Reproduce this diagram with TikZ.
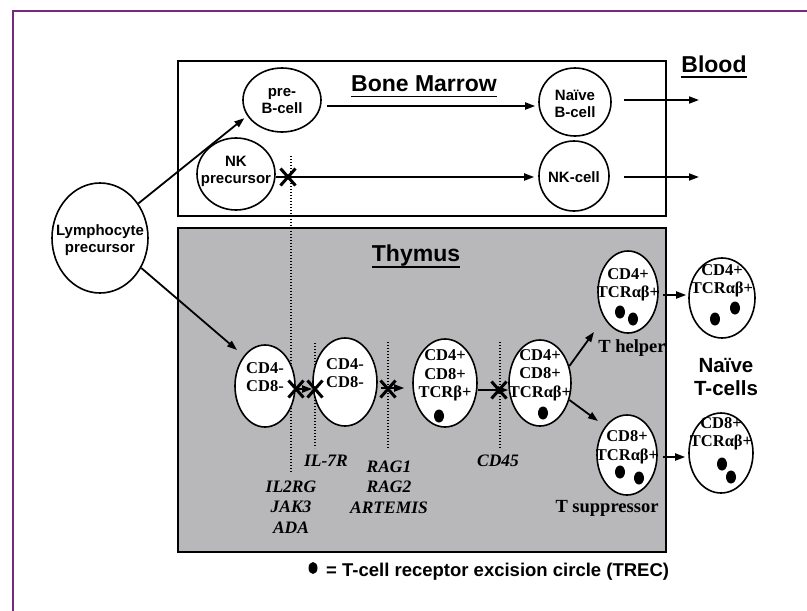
\documentclass[tikz,border=0pt]{standalone}
\usepackage{fontspec}
\setmainfont{Liberation Serif}
\newfontfamily\arialf{Liberation Sans}
\usetikzlibrary{shapes.geometric,shapes.misc,arrows.meta,calc}
\definecolor{framepurple}{RGB}{120,40,130}
\definecolor{thymusgray}{RGB}{184,184,186}
\begin{document}
\begin{tikzpicture}[x=1pt,y=-1pt,
  cell/.style={ellipse,draw,line width=1.6pt,inner sep=0pt,fill=white},
  bmtext/.style={font=\arialf\bfseries\fontsize{15}{17}\selectfont,align=center,inner sep=0pt},
  thtext/.style={font=\bfseries\fontsize{16.5}{18.5}\selectfont,align=center,inner sep=0pt},
  gene/.style={font=\bfseries\itshape\fontsize{17.5}{20.5}\selectfont,align=center,inner sep=0pt},
  title/.style={font=\arialf\bfseries\fontsize{23}{26}\selectfont,inner sep=0pt,anchor=base},
  arr/.style={line width=1.8pt,-{Triangle[length=10pt,width=7pt]}},
  guide/.style={line width=1.3pt,dash pattern=on 1.3pt off 1.7pt},
  xmark/.style={cross out,draw,line width=3pt,minimum width=12pt,minimum height=14pt,inner sep=0pt},
  trec/.style={ellipse,fill=black,inner sep=0pt,minimum width=10pt,minimum height=13pt},
]
\useasboundingbox (0,0) rectangle (807,611);
\draw[framepurple,line width=1.2pt] (13,611) -- (13,11) -- (807,11);

% boxes
\draw[line width=1.3pt] (178,61) rectangle (666,216);
\draw[line width=1.6pt,fill=thymusgray] (178,228) rectangle (666,552);

% titles
\node[title] (bmt) at (424,91.5) {Bone Marrow};
\draw[line width=1.6pt] ($(bmt.base west)+(0,5)$) -- ($(bmt.base east)+(0,5)$);
\node[title] (blt) at (714,72) {Blood};
\draw[line width=1.6pt] ($(blt.base west)+(0,5)$) -- ($(blt.base east)+(0,5)$);
\node[title] (tht) at (416,261) {Thymus};
\draw[line width=1.6pt] ($(tht.base west)+(0,6)$) -- ($(tht.base east)+(0,6)$);

% guide lines (dotted)
\coordinate (g1a) at (291,156); \coordinate (g1b) at (291,473);
\coordinate (g2a) at (315,343); \coordinate (g2b) at (315,448);
\coordinate (g3a) at (388,342); \coordinate (g3b) at (388,448);
\coordinate (g4a) at (500,342); \coordinate (g4b) at (500,448);
\draw[guide] (g1a) -- (g1b);
\draw[guide] (g2a) -- (g2b);
\draw[guide] (g3a) -- (g3b);
\draw[guide] (g4a) -- (g4b);

% bone marrow cells
\node[cell,minimum width=96pt,minimum height=110pt] (lymph) at (100,238) {};
\node[bmtext] (lymphT) at (100,240) {Lymphocyte\\precursor};
\node[cell,minimum width=78pt,minimum height=64pt] (preb) at (282,100) {};
\node[bmtext] (prebT) at (282,101.5) {pre-\\B-cell};
\node[cell,minimum width=78pt,minimum height=72pt] (nkp) at (236,174) {};
\node[bmtext] (nkpT) at (236,171.5) {NK\\precursor};
\node[cell,minimum width=72pt,minimum height=68pt] (naiveb) at (575,102) {};
\node[bmtext] (naivebT) at (575,103.5) {Naïve\\B-cell};
\node[cell,minimum width=70pt,minimum height=70pt] (nkc) at (574,176) {};
\node[bmtext] (nkcT) at (574,177) {NK-cell};

% thymus cells
\node[cell,minimum width=60pt,minimum height=82pt] (t1) at (265,386) {};
\node[thtext] (t1T) at (265,377) {CD4-\\CD8-};
\node[cell,minimum width=64pt,minimum height=88pt] (t2) at (345,382) {};
\node[thtext] (t2T) at (345,373) {CD4-\\CD8-};
\node[cell,minimum width=64pt,minimum height=88pt] (t3) at (445,383) {};
\node[thtext] (t3T) at (445,375.5) {CD4+\\CD8+\\TCRβ+};
\node[trec] (d3) at (439,416) {};
\node[cell,minimum width=62pt,minimum height=86pt] (t4) at (540,383) {};
\node[thtext] (t4T) at (540,375) {CD4+\\CD8+\\TCRαβ+};
\node[trec] (d4) at (543,413) {};
\node[cell,minimum width=60pt,minimum height=82pt] (th) at (628,292) {};
\node[thtext] (thT) at (628,285) {CD4+\\TCRαβ+};
\node[trec] (dh1) at (620,312) {};
\node[trec] (dh2) at (633,319) {};
\node[cell,minimum width=60pt,minimum height=80pt] (ts) at (627,455) {};
\node[thtext] (tsT) at (627,447.5) {CD8+\\TCRαβ+};
\node[trec] (ds1) at (620,472) {};
\node[trec] (ds2) at (639,478) {};
\node[cell,minimum width=66pt,minimum height=80pt] (nc4) at (722,298) {};
\node[thtext] (nc4T) at (722,281) {CD4+\\TCRαβ+};
\node[trec] (dn1) at (715,319) {};
\node[trec] (dn2) at (735,308) {};
\node[cell,minimum width=64pt,minimum height=80pt] (nc8) at (721,453) {};
\node[thtext] (nc8T) at (721,434) {CD8+\\TCRαβ+};
\node[trec] (dn3) at (722,464) {};
\node[trec] (dn4) at (731,477) {};

% labels
\node[font=\bfseries\fontsize{18.5}{20}\selectfont,inner sep=0pt] (thl) at (632,348) {T helper};
\node[font=\bfseries\fontsize{18.5}{20}\selectfont,inner sep=0pt] (tsl) at (607,508) {T suppressor};
\node[font=\arialf\bfseries\fontsize{20.5}{23}\selectfont,align=center,inner sep=0pt] (ntc) at (726,377) {Naïve\\T-cells};
\node[gene] (gl1) at (291,507) {IL2RG\\JAK3\\ADA};
\node[gene] (gl2) at (326,461) {IL-7R};
\node[gene] (gl3) at (389,487) {RAG1\\RAG2\\ARTEMIS};
\node[gene] (gl4) at (498,461) {CD45};

% connectors
\draw[arr] (lymph.42) -- ($(preb.205)+(-3,2)$);
\coordinate (t1in) at (237,350);
\draw[arr] (lymph.-36) -- (t1in);
\draw[arr] ($(preb.east)+(5,6)$) -- ($(naiveb.west)+(-3,4)$);
\coordinate (outb) at (699,100);
\draw[arr] ($(naiveb.east)+(12,-2)$) -- (outb);
\draw[arr] ($(nkp.east)+(0,3)$) -- ($(nkc.west)+(-4,1)$);
\coordinate (outnk) at (699,177);
\draw[arr] ($(nkc.east)+(14,1)$) -- (outnk);

\draw[arr] ($(t1.east)+(0,3)$) -- ($(t2.west)+(0,7)$);
\draw[arr] ($(t2.east)+(3,6)$) -- ($(t3.west)+(-8,5)$);
\draw[arr] ($(t3.east)+(0,7)$) -- ($(t4.west)+(0,7)$);
\coordinate (thin) at (594,332);
\draw[arr] (t4.30) -- (thin);
\coordinate (tsin) at (598,421);
\draw[arr] (t4.-30) -- (tsin);
\draw[arr] ($(th.east)+(4,3)$) -- ($(nc4.west)+(-2,-3)$);
\draw[arr] ($(ts.east)+(5,2)$) -- ($(nc8.west)+(-3,4)$);

% block marks
\node[xmark] (x0) at (288,177) {};
\node[xmark] (x1) at (296,389) {};
\node[xmark] (x2) at (315,389) {};
\node[xmark] (x3) at (388,389) {};
\node[xmark] (x4) at (499,390) {};

% legend
\node[ellipse,fill=black,inner sep=0pt,minimum width=9pt,minimum height=12pt] (legdot) at (313,568) {};
\node[font=\arialf\bfseries\fontsize{18.5}{20}\selectfont,anchor=west,inner sep=0pt] (leg) at (326,572) {= T-cell receptor excision circle (TREC)};
\end{tikzpicture}
\end{document}
